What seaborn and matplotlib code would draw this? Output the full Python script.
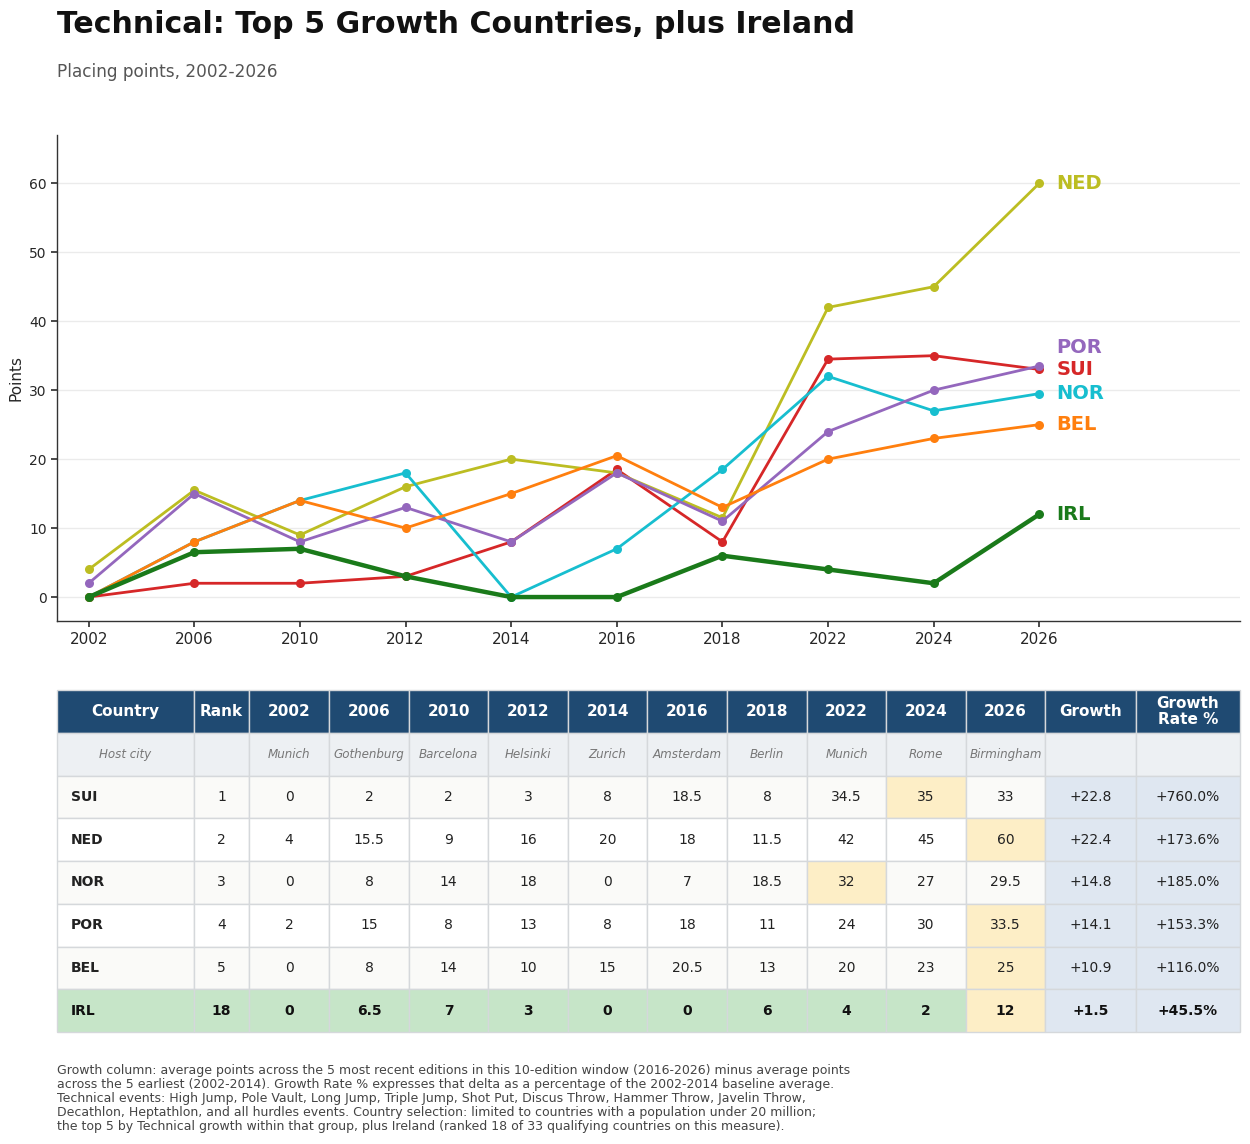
import numpy as np
import pandas as pd
import matplotlib
matplotlib.use("Agg")
import matplotlib.pyplot as plt
import seaborn as sns

# ---------------- data ----------------
years = ["2002", "2006", "2010", "2012", "2014", "2016", "2018", "2022", "2024", "2026"]
host_cities = ["Munich", "Gothenburg", "Barcelona", "Helsinki", "Zurich",
               "Amsterdam", "Berlin", "Munich", "Rome", "Birmingham"]
countries = ["SUI", "NED", "NOR", "POR", "BEL", "IRL"]
ranks = [1, 2, 3, 4, 5, 18]

sui = [0, 2, 2, 3, 8, 18.5, 8, 34.5, 35, 33]
ned = [4, 15.5, 9, 16, 20, 18, 11.5, 42, 45, 60]
nor = [0, 8, 14, 18, 0, 7, 18.5, 32, 27, 29.5]
por = [2, 15, 8, 13, 8, 18, 11, 24, 30, 33.5]
bel = [0, 8, 14, 10, 15, 20.5, 13, 20, 23, 25]
irl = [0, 6.5, 7, 3, 0, 0, 6, 4, 2, 12]

colors = {"SUI": "#d62728", "NED": "#bcbd22", "NOR": "#17becf",
          "POR": "#9467bd", "BEL": "#ff7f0e", "IRL": "#1a7a1a"}

series = dict(zip(countries, [sui, ned, nor, por, bel, irl]))

rows = []
for c in countries:
    for i, (y, v) in enumerate(zip(years, series[c])):
        rows.append({"country": c, "idx": i, "year": y, "points": v})
df = pd.DataFrame(rows)

# ---------------- figure ----------------
sns.set_theme(style="white")
plt.rcParams["font.family"] = ["DejaVu Sans"]

fig = plt.figure(figsize=(12.5, 11.44), dpi=100)
ax = fig.add_axes([0.0456, 0.457, 0.9464, 0.425])

for c in countries:
    sub = df[df["country"] == c]
    lw = 3.2 if c == "IRL" else 2.0
    sns.lineplot(data=sub, x="idx", y="points", ax=ax, color=colors[c],
                 linewidth=lw, marker="o", markersize=6.5, markeredgewidth=0,
                 zorder=4 if c == "IRL" else 3, legend=False)

ax.set_xlim(-0.3, 10.9)
ax.set_ylim(-3.5, 67)
ax.set_xticks(range(len(years)))
ax.set_xticklabels(years, fontsize=11)
ax.set_yticks([0, 10, 20, 30, 40, 50, 60])
ax.tick_params(axis="y", labelsize=10, length=4, color="#333333", left=True)
ax.tick_params(axis="x", length=4, color="#333333", bottom=True)
ax.set_xlabel("")
ax.set_ylabel("Points", fontsize=11)
ax.yaxis.grid(True, color="#ebebeb", linewidth=1)
ax.xaxis.grid(False)
for s in ["top", "right"]:
    ax.spines[s].set_visible(False)
for s in ["left", "bottom"]:
    ax.spines[s].set_color("#333333")
    ax.spines[s].set_linewidth(1.0)

# end labels with simple collision avoidance (bottom-up)
ends = sorted([(series[c][-1], c) for c in countries])
min_gap = 3.2
placed = []
last = -1e9
for v, c in ends:
    y = max(v, last + min_gap)
    placed.append((y, c))
    last = y
for y, c in placed:
    ax.text(len(years) - 1 + 0.16, y, c, color=colors[c], fontsize=14,
            fontweight="bold", va="center", ha="left")

# titles
fig.text(0.0456, 0.979, "Technical: Top 5 Growth Countries, plus Ireland",
         fontsize=21.6, fontweight="bold", va="center", ha="left", color="#111111")
fig.text(0.0456, 0.937, "Placing points, 2002-2026", fontsize=12.2,
         va="center", ha="left", color="#555555")

# ---------------- table ----------------
first5 = [np.mean(series[c][:5]) for c in countries]
last5 = [np.mean(series[c][5:]) for c in countries]
growth = [l - f for f, l in zip(first5, last5)]
growth_rate = [g / f * 100 for g, f in zip(growth, first5)]

def fmt(v):
    return f"{v:g}"

header = ["Country", "Rank"] + years + ["Growth", "Growth\nRate %"]
host_row = ["Host city", ""] + host_cities + ["", ""]
cell_text = [header, host_row]
for i, c in enumerate(countries):
    cell_text.append([c, str(ranks[i])] + [fmt(v) for v in series[c]]
                     + [f"+{growth[i]:.1f}", f"+{growth_rate[i]:.1f}%"])

col_px = [137, 55, 80, 80, 79, 80, 79, 80, 80, 79, 80, 79, 91, 104]
tot = sum(col_px)
col_w = [w / tot for w in col_px]

tax = fig.add_axes([57 / 1250, 1 - 1032 / 1144, (1240 - 57) / 1250, (1032 - 690) / 1144])
tax.axis("off")
tbl = tax.table(cellText=cell_text, colWidths=col_w, bbox=[0, 0, 1, 1],
                cellLoc="center")
tbl.auto_set_font_size(False)

header_c = "#1f4a72"
host_c = "#edf0f3"
growth_c = "#dfe7f1"
high_c = "#fdeec6"
irl_c = "#c6e5c8"
edge_c = "#d5d8db"

for (r, cidx), cell in tbl.get_celld().items():
    cell.set_edgecolor(edge_c)
    cell.set_linewidth(1.0)
    txt = cell.get_text()
    txt.set_fontsize(10)
    txt.set_color("#222222")
    if r == 0:
        cell.set_facecolor(header_c)
        txt.set_color("white")
        txt.set_fontweight("bold")
        txt.set_fontsize(11)
        txt.set_linespacing(1.1)
        continue
    if r == 1:
        cell.set_facecolor(host_c)
        txt.set_fontstyle("italic")
        txt.set_color("#777777")
        txt.set_fontsize(8.6)
        continue
    ci = r - 2
    c = countries[ci]
    is_irl = c == "IRL"
    base = irl_c if is_irl else ("#fafaf8" if ci % 2 == 0 else "#ffffff")
    cell.set_facecolor(base)
    if cidx == 0:
        txt.set_fontweight("bold")
        cell.set_text_props(ha="left")
        cell.PAD = 0.1
    if is_irl:
        txt.set_fontweight("bold")
        txt.set_color("#111111")
    if 2 <= cidx < 2 + len(years):
        vals = series[c]
        if cidx - 2 == int(np.argmax(vals)):
            cell.set_facecolor(high_c)
    if cidx >= 2 + len(years):
        cell.set_facecolor(growth_c)

# footnote
foot = ("Growth column: average points across the 5 most recent editions in this 10-edition window (2016-2026) minus average points\n"
        "across the 5 earliest (2002-2014). Growth Rate % expresses that delta as a percentage of the 2002-2014 baseline average.\n"
        "Technical events: High Jump, Pole Vault, Long Jump, Triple Jump, Shot Put, Discus Throw, Hammer Throw, Javelin Throw,\n"
        "Decathlon, Heptathlon, and all hurdles events. Country selection: limited to countries with a population under 20 million;\n"
        "the top 5 by Technical growth within that group, plus Ireland (ranked 18 of 33 qualifying countries on this measure).")
fig.text(0.0456, 1 - 1064 / 1144, foot, fontsize=9.0, color="#444444",
         va="top", ha="left", linespacing=1.1)

fig.savefig("out.png", dpi=100)
